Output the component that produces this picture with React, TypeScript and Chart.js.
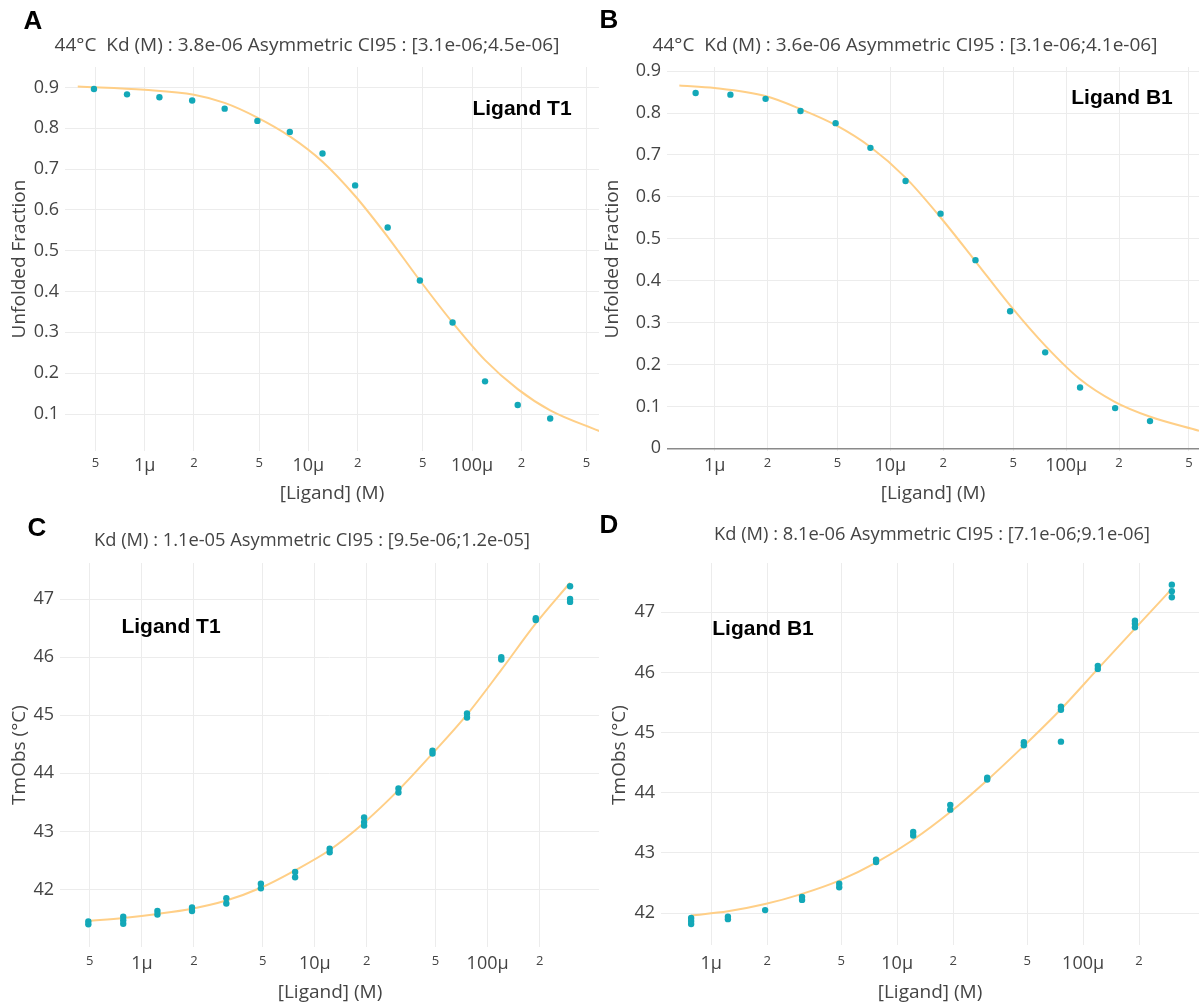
import React, { useEffect, useRef } from "react";
import { Chart, registerables } from "chart.js";

Chart.register(...registerables);
Chart.defaults.font.family = "'Open Sans', 'DejaVu Sans', sans-serif";

// ---- ligand concentrations (M) ----
const CONC_T1 = [4.9e-7, 7.8e-7, 1.23e-6, 1.95e-6, 3.08e-6, 4.88e-6, 7.7e-6, 1.22e-5, 1.93e-5, 3.05e-5, 4.8e-5, 7.6e-5, 1.2e-4, 1.9e-4, 3.0e-4];
const CONC_B1 = [7.8e-7, 1.23e-6, 1.95e-6, 3.08e-6, 4.88e-6, 7.7e-6, 1.22e-5, 1.93e-5, 3.05e-5, 4.8e-5, 7.6e-5, 1.2e-4, 1.9e-4, 3.0e-4];

// ---- unfolded fraction at 44 °C ----
const FRAC_T1 = [0.896, 0.883, 0.876, 0.868, 0.848, 0.818, 0.791, 0.738, 0.66, 0.557, 0.427, 0.324, 0.18, 0.122, 0.089];
const FRAC_B1 = [0.848, 0.844, 0.834, 0.805, 0.776, 0.717, 0.638, 0.56, 0.449, 0.327, 0.229, 0.145, 0.096, 0.065];

// fitted isothermal curves
const FIT_FRAC_T1_CONC = [3.9e-7, 1.0e-6, 2.0e-6, 3.08e-6, 4.88e-6, 7.7e-6, 1.22e-5, 1.93e-5, 3.05e-5, 4.8e-5, 7.6e-5, 1.2e-4, 1.9e-4, 3.0e-4, 6.0e-4];
const FIT_FRAC_T1 = [0.902, 0.894, 0.882, 0.862, 0.826, 0.78, 0.718, 0.634, 0.534, 0.427, 0.324, 0.232, 0.161, 0.109, 0.058];
const FIT_FRAC_B1_CONC = [6.3e-7, 1.0e-6, 1.97e-6, 3.1e-6, 4.9e-6, 7.7e-6, 1.22e-5, 1.92e-5, 3.04e-5, 4.8e-5, 7.6e-5, 1.19e-4, 1.89e-4, 2.98e-4, 5.7e-4];
const FIT_FRAC_B1 = [0.866, 0.86, 0.84, 0.809, 0.771, 0.719, 0.646, 0.552, 0.447, 0.341, 0.245, 0.166, 0.111, 0.076, 0.042];

// ---- observed Tm (°C), replicates per concentration ----
const TM_T1 = [
  [41.45, 41.4], [41.53, 41.47, 41.41], [41.63, 41.57], [41.69, 41.63], [41.85, 41.76],
  [42.1, 42.02], [42.3, 42.21], [42.7, 42.64], [43.24, 43.16, 43.1], [43.74, 43.67],
  [44.39, 44.34], [45.03, 44.96], [46.0, 45.96], [46.67, 46.64], [47.22, 47.0, 46.95],
];
const TM_B1 = [
  [41.92, 41.87, 41.82], [41.94, 41.9], [42.05], [42.27, 42.22], [42.49, 42.43],
  [42.89, 42.85], [43.35, 43.29], [43.8, 43.72], [44.25, 44.22], [44.84, 44.79],
  [45.43, 45.38, 44.85], [46.11, 46.06], [46.86, 46.81, 46.75], [47.46, 47.35, 47.25],
];
const FIT_TM_T1 = [41.46, 41.51, 41.58, 41.67, 41.81, 42.03, 42.33, 42.68, 43.15, 43.71, 44.34, 45.01, 45.78, 46.58, 47.28];
const FIT_TM_B1 = [41.96, 42.03, 42.15, 42.32, 42.54, 42.84, 43.22, 43.68, 44.21, 44.78, 45.39, 46.06, 46.73, 47.39];

// ---- tick values / labels ----
const X_TICKS_A = [5e-7, 1e-6, 2e-6, 5e-6, 1e-5, 2e-5, 5e-5, 1e-4, 2e-4, 5e-4];
const X_LABELS_A = ["5", "1µ", "2", "5", "10µ", "2", "5", "100µ", "2", "5"];
const X_TICKS_B = [1e-6, 2e-6, 5e-6, 1e-5, 2e-5, 5e-5, 1e-4, 2e-4, 5e-4];
const X_LABELS_B = ["1µ", "2", "5", "10µ", "2", "5", "100µ", "2", "5"];
const X_TICKS_C = [5e-7, 1e-6, 2e-6, 5e-6, 1e-5, 2e-5, 5e-5, 1e-4, 2e-4];
const X_LABELS_C = ["5", "1µ", "2", "5", "10µ", "2", "5", "100µ", "2"];
const X_TICKS_D = [1e-6, 2e-6, 5e-6, 1e-5, 2e-5, 5e-5, 1e-4, 2e-4];
const X_LABELS_D = ["1µ", "2", "5", "10µ", "2", "5", "100µ", "2"];
const Y_TICKS_A = [0.1, 0.2, 0.3, 0.4, 0.5, 0.6, 0.7, 0.8, 0.9];
const Y_TICKS_B = [0, 0.1, 0.2, 0.3, 0.4, 0.5, 0.6, 0.7, 0.8, 0.9];
const Y_TICKS_TM = [42, 43, 44, 45, 46, 47];

const TEAL = "#13a8b8";
const ORANGE = "#ffcf87";
const GRID = "#ececec";
const TEXT = "#444";
const SANS = "'Open Sans', 'DejaVu Sans', sans-serif";
const BOLD = "'Liberation Sans', Arial, sans-serif";

type Pt = { x: number; y: number };
type Label = { text: string; x: number; y: number };

interface PanelSpec {
  box: { left: number; top: number; width: number; height: number };
  plot: { left: number; top: number; right: number; bottom: number };
  xRange: [number, number];
  yRange: [number, number];
  xTicks: number[];
  xLabels: string[];
  yTicks: number[];
  yFormat: (v: number) => string;
  xPad: number;
  points: Pt[];
  fit: Pt[];
  letter: Label;
  title: Label;
  titleSize: number;
  xTitle: Label;
  yTitle: Label;
  note: Label;
  zeroLine?: boolean;
}

const pairs = (xs: number[], ys: number[]): Pt[] => xs.map((x, i) => ({ x, y: ys[i] }));
const replicates = (xs: number[], reps: number[][]): Pt[] =>
  xs.flatMap((x, i) => reps[i].map((y) => ({ x, y })));
const fmtFrac = (v: number) => (v === 0 ? "0" : v.toFixed(1));
const fmtTm = (v: number) => String(v);

const PANELS: PanelSpec[] = [
  {
    box: { left: 0, top: 0, width: 600, height: 510 },
    plot: { left: 65, top: 67, right: 599, bottom: 451 },
    xRange: [3.26e-7, 5.96e-4],
    yRange: [0.0094, 0.95],
    xTicks: X_TICKS_A,
    xLabels: X_LABELS_A,
    yTicks: Y_TICKS_A,
    yFormat: fmtFrac,
    xPad: 4,
    points: pairs(CONC_T1, FRAC_T1),
    fit: pairs(FIT_FRAC_T1_CONC, FIT_FRAC_T1),
    letter: { text: "A", x: 33, y: 22 },
    title: { text: "44°C  Kd (M) : 3.8e-06 Asymmetric CI95 : [3.1e-06;4.5e-06]", x: 307, y: 46 },
    titleSize: 19,
    xTitle: { text: "[Ligand] (M)", x: 332, y: 494 },
    yTitle: { text: "Unfolded Fraction", x: 20, y: 259 },
    note: { text: "Ligand T1", x: 522, y: 109 },
  },
  {
    box: { left: 600, top: 0, width: 599, height: 510 },
    plot: { left: 67, top: 67, right: 599, bottom: 451 },
    xRange: [5.36e-7, 5.7e-4],
    yRange: [-0.0064, 0.91],
    xTicks: X_TICKS_B,
    xLabels: X_LABELS_B,
    yTicks: Y_TICKS_B,
    yFormat: fmtFrac,
    xPad: 4,
    points: pairs(CONC_B1, FRAC_B1),
    fit: pairs(FIT_FRAC_B1_CONC, FIT_FRAC_B1),
    letter: { text: "B", x: 9, y: 21 },
    title: { text: "44°C  Kd (M) : 3.6e-06 Asymmetric CI95 : [3.1e-06;4.1e-06]", x: 305, y: 46 },
    titleSize: 19,
    xTitle: { text: "[Ligand] (M)", x: 333, y: 494 },
    yTitle: { text: "Unfolded Fraction", x: 13, y: 259 },
    note: { text: "Ligand B1", x: 522, y: 98 },
    zeroLine: true,
  },
  {
    box: { left: 0, top: 510, width: 600, height: 495 },
    plot: { left: 60, top: 53, right: 599, bottom: 437 },
    xRange: [3.36e-7, 4.41e-4],
    yRange: [41.01, 47.62],
    xTicks: X_TICKS_C,
    xLabels: X_LABELS_C,
    yTicks: Y_TICKS_TM,
    yFormat: fmtTm,
    xPad: 6,
    points: replicates(CONC_T1, TM_T1),
    fit: pairs(CONC_T1, FIT_TM_T1),
    letter: { text: "C", x: 37, y: 19 },
    title: { text: "Kd (M) : 1.1e-05 Asymmetric CI95 : [9.5e-06;1.2e-05]", x: 312, y: 31 },
    titleSize: 18.3,
    xTitle: { text: "[Ligand] (M)", x: 330, y: 483 },
    yTitle: { text: "TmObs (°C)", x: 20, y: 245 },
    note: { text: "Ligand T1", x: 171, y: 117 },
  },
  {
    box: { left: 600, top: 510, width: 599, height: 495 },
    plot: { left: 61, top: 53, right: 599, bottom: 435 },
    xRange: [5.37e-7, 4.2e-4],
    yRange: [41.47, 47.82],
    xTicks: X_TICKS_D,
    xLabels: X_LABELS_D,
    yTicks: Y_TICKS_TM,
    yFormat: fmtTm,
    xPad: 8,
    points: replicates(CONC_B1, TM_B1),
    fit: pairs(CONC_B1, FIT_TM_B1),
    letter: { text: "D", x: 9, y: 16 },
    title: { text: "Kd (M) : 8.1e-06 Asymmetric CI95 : [7.1e-06;9.1e-06]", x: 332, y: 25 },
    titleSize: 18.3,
    xTitle: { text: "[Ligand] (M)", x: 330, y: 483 },
    yTitle: { text: "TmObs (°C)", x: 20, y: 245 },
    note: { text: "Ligand B1", x: 163, y: 119 },
  },
];

const Y_AXIS_W = 50;
const X_AXIS_H = 40;

function Panel({ spec }: { spec: PanelSpec }) {
  const ref = useRef<HTMLCanvasElement>(null);

  useEffect(() => {
    const canvas = ref.current;
    if (!canvas) return;
    const p = spec.plot;

    // panel letter, heading, axis titles and ligand label
    const textPlugin = {
      id: "panelText",
      afterDraw(chart: any) {
        const ctx = chart.ctx as CanvasRenderingContext2D;
        ctx.save();
        ctx.textBaseline = "middle";
        ctx.textAlign = "center";

        ctx.fillStyle = "#000";
        ctx.font = `bold 26px ${BOLD}`;
        ctx.fillText(spec.letter.text, spec.letter.x, spec.letter.y);

        ctx.font = `bold 21px ${BOLD}`;
        ctx.fillText(spec.note.text, spec.note.x, spec.note.y);

        ctx.fillStyle = TEXT;
        ctx.font = `${spec.titleSize}px ${SANS}`;
        ctx.fillText(spec.title.text, spec.title.x, spec.title.y);

        ctx.font = `19px ${SANS}`;
        ctx.fillText(spec.xTitle.text, spec.xTitle.x, spec.xTitle.y);

        ctx.translate(spec.yTitle.x, spec.yTitle.y);
        ctx.rotate(-Math.PI / 2);
        ctx.fillText(spec.yTitle.text, 0, 0);
        ctx.restore();
      },
    };

    const chart = new Chart(canvas, {
      type: "scatter",
      data: {
        datasets: [
          {
            type: "scatter",
            data: spec.points,
            pointRadius: 3.2,
            pointHoverRadius: 3.2,
            pointBackgroundColor: TEAL,
            pointBorderWidth: 0,
            backgroundColor: TEAL,
            borderWidth: 0,
          },
          {
            type: "line",
            data: spec.fit,
            borderColor: ORANGE,
            borderWidth: 2,
            pointRadius: 0,
            fill: false,
            cubicInterpolationMode: "monotone",
          },
        ],
      } as any,
      options: {
        responsive: false,
        animation: false,
        events: [],
        layout: {
          autoPadding: false,
          padding: {
            left: p.left - Y_AXIS_W,
            right: spec.box.width - p.right,
            top: p.top,
            bottom: spec.box.height - p.bottom - X_AXIS_H,
          },
        },
        plugins: {
          legend: { display: false },
          tooltip: { enabled: false },
          title: { display: false },
        },
        scales: {
          x: {
            type: "logarithmic",
            position: "bottom",
            min: spec.xRange[0],
            max: spec.xRange[1],
            afterBuildTicks: (s: any) => {
              s.ticks = spec.xTicks.map((v) => ({ value: v }));
            },
            afterFit: (s: any) => {
              s.height = X_AXIS_H;
            },
            ticks: {
              autoSkip: false,
              maxRotation: 0,
              minRotation: 0,
              padding: spec.xPad,
              color: TEXT,
              font: (c: any) => ({
                family: SANS,
                size: (spec.xLabels[c.index] || "").includes("µ") ? 18 : 13,
              }),
              callback: (_v: any, i: number) => spec.xLabels[i],
            },
            grid: { color: GRID, lineWidth: 1, drawTicks: false },
            border: { display: false },
          },
          y: {
            type: "linear",
            position: "left",
            min: spec.yRange[0],
            max: spec.yRange[1],
            afterBuildTicks: (s: any) => {
              s.ticks = spec.yTicks.map((v) => ({ value: v }));
            },
            afterFit: (s: any) => {
              s.width = Y_AXIS_W;
            },
            ticks: {
              padding: 6,
              color: TEXT,
              font: { family: SANS, size: 18 },
              callback: (v: any) => spec.yFormat(Number(v)),
            },
            grid: {
              drawTicks: false,
              color: (c: any) => (spec.zeroLine && c.tick && c.tick.value === 0 ? "#8a8a8a" : GRID),
              lineWidth: (c: any) => (spec.zeroLine && c.tick && c.tick.value === 0 ? 1.6 : 1),
            },
            border: { display: false },
          },
        },
      } as any,
      plugins: [textPlugin],
    });

    return () => chart.destroy();
  }, [spec]);

  return (
    <canvas
      ref={ref}
      width={spec.box.width}
      height={spec.box.height}
      style={{ position: "absolute", left: spec.box.left, top: spec.box.top }}
    />
  );
}

export default function App() {
  return (
    <div
      style={{
        position: "absolute",
        left: 0,
        top: 0,
        width: 1199,
        height: 1005,
        background: "#fff",
        overflow: "hidden",
      }}
    >
      {PANELS.map((s, i) => (
        <Panel key={i} spec={s} />
      ))}
    </div>
  );
}
